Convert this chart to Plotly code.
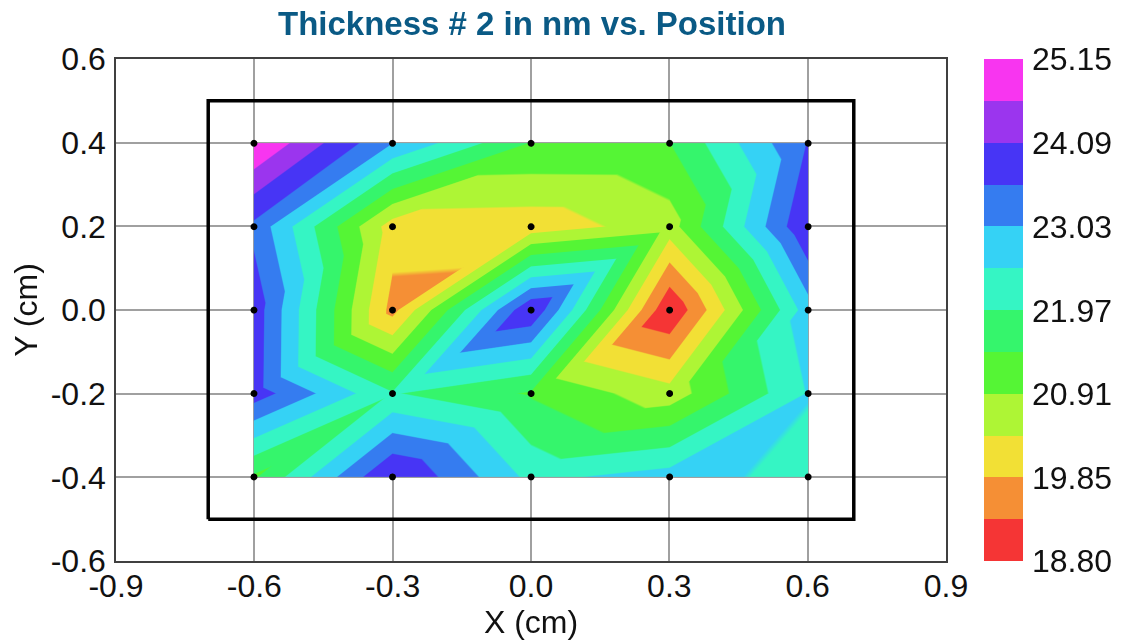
import plotly.graph_objects as go

x_pos = [-0.6, -0.3, 0.0, 0.3, 0.6]
y_pos = [-0.4, -0.2, 0.0, 0.2, 0.4]
thickness = [
    [21.35, 24.12, 22.35, 22.73, 22.31],
    [23.82, 22.02, 21.37, 20.60, 22.53],
    [23.85, 19.68, 24.06, 18.80, 22.78],
    [23.41, 20.12, 20.07, 20.67, 24.06],
    [25.15, 23.03, 21.40, 21.42, 23.58],
]
level_start = 18.80
level_end = 25.15
band_colors = ["#f53535", "#f58f35", "#f2e035", "#aef535", "#55f535", "#35f56c",
               "#35f5c4", "#35d2f5", "#357cf0", "#4735f5", "#9b35ee", "#f835f0"]
cbar_vals = [18.80, 19.85, 20.91, 21.97, 23.03, 24.09, 25.15]
cbar_text = ["18.80", "19.85", "20.91", "21.97", "23.03", "24.09", "25.15"]
wafer_x = [-0.7, 0.7, 0.7, -0.7, -0.7]
wafer_y = [-0.5, -0.5, 0.5, 0.5, -0.5]
x_ticks = [-0.9, -0.6, -0.3, 0.0, 0.3, 0.6, 0.9]
x_text = ["-0.9", "-0.6", "-0.3", "0.0", "0.3", "0.6", "0.9"]
y_ticks = [-0.6, -0.4, -0.2, 0.0, 0.2, 0.4, 0.6]
y_text = ["-0.6", "-0.4", "-0.2", "0.0", "0.2", "0.4", "0.6"]

n = len(band_colors)
scale = []
for b, c in enumerate(band_colors):
    scale += [[b / n, c], [(b + 1) / n, c]]

nx, ny = len(x_pos), len(y_pos)
px = [a for _ in y_pos for a in x_pos]
py = [b for b in y_pos for _ in x_pos]
pz = [v for row in thickness for v in row]
ti, tj, tk = [], [], []
for r in range(ny - 1):
    for c in range(nx - 1):
        ll = r * nx + c
        lr, ul, ur = ll + 1, ll + nx, ll + nx + 1
        ti += [ll, ll]
        tj += [lr, ur]
        tk += [ur, ul]

FONT = "Liberation Sans"
INK = "#111111"
fig = go.Figure()
fig.add_trace(go.Scatter(x=wafer_x, y=wafer_y, mode="lines", showlegend=False, hoverinfo="skip",
                         line=dict(color="#000000", width=3.5)))
fig.add_trace(go.Mesh3d(
    x=px, y=py, z=[0] * len(px), i=ti, j=tj, k=tk,
    intensity=pz, cmin=level_start, cmax=level_end, colorscale=scale, scene="scene",
    flatshading=False, hoverinfo="skip",
    lighting=dict(ambient=1, diffuse=0, specular=0, fresnel=0, roughness=1),
    colorbar=dict(x=1.0446, xanchor="left", y=0.5, yanchor="middle", len=1, lenmode="fraction",
                  thickness=39, thicknessmode="pixels", outlinewidth=0, borderwidth=0, xpad=0, ypad=0,
                  tickmode="array", tickvals=cbar_vals, ticktext=cbar_text,
                  ticks="outside", ticklen=3, tickcolor="rgba(0,0,0,0)",
                  tickfont=dict(family=FONT, size=32, color=INK)),
))
fig.add_trace(go.Scatter3d(x=px, y=py, z=[0.1] * len(px), mode="markers", showlegend=False, hoverinfo="skip",
                           scene="scene", marker=dict(color="#000000", size=4, line=dict(width=0))))
axis = dict(showgrid=True, gridcolor="#a0a0a0", gridwidth=2, zeroline=False, showline=True,
            linecolor="#404040", linewidth=1.5, mirror=True, ticks="",
            tickfont=dict(family=FONT, size=32, color=INK), tickmode="array")
hidden = dict(visible=False, showspikes=False)
fig.update_layout(
    width=1115, height=633, autosize=False,
    margin=dict(l=108, r=176, t=51, b=80),
    paper_bgcolor="white", plot_bgcolor="white", showlegend=False,
    title=dict(text="<b>Thickness # 2 in nm vs. Position</b>", x=524 / 1115, xanchor="center",
               y=1 - 15 / 633, yanchor="middle",
               font=dict(family=FONT, size=33, color="#0a5a85")),
    xaxis=dict(axis, range=[-0.9, 0.9], tickvals=x_ticks, ticktext=x_text, ticklabelstandoff=-4,
               title=dict(text="X (cm)", font=dict(family=FONT, size=32, color=INK), standoff=0)),
    yaxis=dict(axis, range=[-0.6, 0.6], tickvals=y_ticks, ticktext=y_text, ticklabelstandoff=2,
               title=dict(text="Y (cm)", font=dict(family=FONT, size=32, color=INK), standoff=4)),
    scene=dict(domain=dict(x=[0, 1], y=[0, 1]),
               xaxis=dict(hidden, range=[-0.9, 0.9]), yaxis=dict(hidden, range=[-0.6, 0.6]),
               zaxis=dict(hidden, range=[-1, 1]),
               aspectmode="manual", aspectratio=dict(x=3.312, y=1.994, z=0.5),
               camera=dict(eye=dict(x=0, y=0, z=1), up=dict(x=0, y=1, z=0), center=dict(x=0, y=0, z=0),
                           projection=dict(type="orthographic"))),
)
fig.write_html("out.html")
